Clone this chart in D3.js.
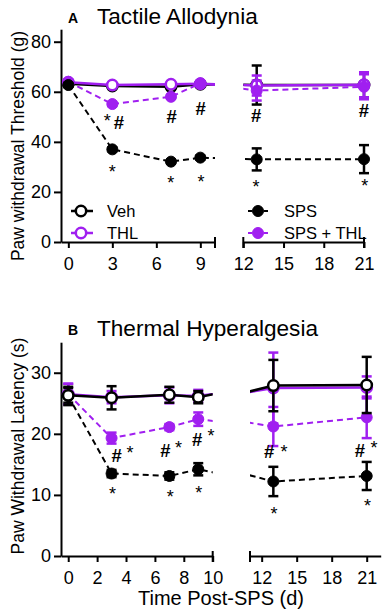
<!DOCTYPE html>
<html>
<head>
<meta charset="utf-8">
<script src="https://cdn.jsdelivr.net/npm/d3@7"></script>
<style>
  body { margin: 0; background: #fff; }
  svg { font-family: "Liberation Sans", Arial, sans-serif; }
</style>
</head>
<body>
<svg id="chart"></svg>
<script>
const width = 383;
const height = 613;
const purple = "#a01ff0";

// days after SPS
const days = [0, 3, 7, 9, 13, 21];

// A: tactile allodynia, threshold (g)
const vehA = [63.2, 62.3, 62.0, 63.0, 62.7, 62.7];
const vehAErr = [1.0, 0.8, 1.0, 0.8, 7.8, 5.0];
const thlA = [63.8, 62.7, 63.0, 63.2, 62.5, 62.8];
const thlAErr = [1.0, 0.8, 0.8, 0.8, 4.0, 5.0];
const spsA = [62.7, 37.0, 32.1, 33.7, 33.0, 33.1];
const spsAErr = [0.8, 0.8, 0.8, 0.8, 4.4, 5.6];
const spsThlA = [64.0, 55.1, 58.0, 63.4, 60.5, 62.0];
const spsThlAErr = [0.8, 0.8, 0.8, 0.8, 4.0, 5.0];

// B: thermal hyperalgesia, latency (s)
const vehB = [26.3, 25.9, 26.4, 26.0, 27.9, 28.0];
const vehBErr = [1.2, 1.9, 1.3, 1.0, 4.2, 4.6];
const thlB = [26.5, 26.0, 26.3, 26.2, 27.5, 27.6];
const thlBErr = [1.7, 1.0, 1.3, 1.0, 5.8, 1.8];
const spsB = [26.2, 13.5, 13.1, 14.2, 12.2, 13.1];
const spsBErr = [1.5, 0.6, 0.6, 1.0, 2.4, 2.3];
const spsThlB = [26.5, 19.3, 21.1, 22.4, 21.2, 22.7];
const spsThlBErr = [1.7, 0.9, 0.5, 1.1, 3.2, 3.4];

// tick labels
const xTicksA1 = [0, 3, 6, 9];
const xTicksA2 = [12, 15, 18, 21];
const xTicksB1 = [0, 2, 4, 6, 8, 10];
const xTicksB2 = [12, 15, 18, 21];
const yTicksA = [0, 20, 40, 60, 80];
const yTicksB = [0, 10, 20, 30];

// significance marks: [day, value, symbol]
const marksA = [
  [2.65, 50.0, "*"], [3.45, 47.6, "#"], [7.05, 50.0, "#"], [9.03, 53.4, "#"],
  [12.95, 50.7, "#"], [21.0, 52.7, "#"],
  [3.0, 29.7, "*"], [6.98, 25.2, "*"], [9.05, 25.4, "*"], [12.95, 23.7, "*"], [21.05, 24.1, "*"]
];
const marksB = [
  [3.36, 16.4, "#"], [4.28, 17.5, "*"], [6.72, 17.3, "#"], [7.64, 18.4, "*"],
  [8.92, 19.1, "#"], [9.89, 20.3, "*"],
  [12.65, 17.1, "#"], [13.91, 17.6, "*"], [20.42, 17.3, "#"], [21.62, 18.4, "*"],
  [3.06, 10.8, "*"], [7.06, 10.3, "*"], [9.03, 10.9, "*"], [13.05, 7.6, "*"], [21.08, 8.9, "*"]
];

const styles = {
  Veh: { stroke: "#000", fill: "#fff", dash: null, r: 5.2 },
  THL: { stroke: purple, fill: "#fff", dash: null, r: 5.2 },
  SPS: { stroke: "#000", fill: "#000", dash: "6,4", r: 5.5 },
  "SPS + THL": { stroke: purple, fill: purple, dash: "6,4", r: 5.5 }
};

const svg = d3.select("#chart").attr("width", width).attr("height", height);
const defs = svg.append("defs");

const panels = [
  {
    id: "A", title: "Tactile Allodynia", titleY: 24,
    ylabel: "Paw withdrawal Threshold (g)", ylabelY: 146,
    y: d3.scaleLinear().domain([0, 85]).range([242, 29.2]),
    yTicks: yTicksA,
    segs: [
      { x: d3.scaleLinear().domain([-0.5, 10]).range([61, 215]), ticks: xTicksA1, capL: false },
      { x: d3.scaleLinear().domain([12, 21]).range([243.3, 364]), ticks: xTicksA2, capL: true }
    ],
    series: [
      ["Veh", vehA, vehAErr], ["THL", thlA, thlAErr],
      ["SPS + THL", spsThlA, spsThlAErr], ["SPS", spsA, spsAErr]
    ],
    marks: marksA
  },
  {
    id: "B", title: "Thermal Hyperalgesia", titleY: 336,
    ylabel: "Paw Withdrawal Latency (s)", ylabelY: 446,
    y: d3.scaleLinear().domain([0, 35]).range([556, 342.2]),
    yTicks: yTicksB,
    segs: [
      { x: d3.scaleLinear().domain([-0.5, 10]).range([61, 212.7]), ticks: xTicksB1, capL: false },
      { x: d3.scaleLinear().domain([11, 22.2]).range([250, 380.7]), ticks: xTicksB2, capL: true, noCapR: true }
    ],
    series: [
      ["THL", thlB, thlBErr], ["SPS + THL", spsThlB, spsThlBErr],
      ["SPS", spsB, spsBErr], ["Veh", vehB, vehBErr]
    ],
    marks: marksB
  }
];

panels.forEach(p => {
  const g = svg.append("g");
  const y = p.y;
  const y0 = y.range()[0];

  // title
  g.append("text").attr("x", 68).attr("y", p.titleY - 1)
    .attr("font-size", 14).attr("font-weight", "bold").text(p.id);
  g.append("text").attr("x", 97).attr("y", p.titleY)
    .attr("font-size", 22.6).text(p.title);

  // y label
  g.append("text")
    .attr("transform", `translate(24,${p.ylabelY}) rotate(-90)`)
    .attr("text-anchor", "middle")
    .attr("font-size", 17.5)
    .text(p.ylabel);

  // y axis
  const yAxis = g.append("g")
    .attr("transform", "translate(61,0)")
    .call(d3.axisLeft(y).tickValues(p.yTicks).tickSize(7).tickSizeOuter(0).tickPadding(3));
  yAxis.selectAll("path, line").attr("stroke", "#000").attr("stroke-width", 2);
  yAxis.selectAll("text").attr("font-size", 18).attr("fill", "#000").style("font-family", "inherit");

  p.segs.forEach((s, si) => {
    const x = s.x;
    const [xa, xb] = x.range();

    // x axis
    const xAxis = g.append("g")
      .attr("transform", `translate(0,${y0})`)
      .call(d3.axisBottom(x).tickValues(s.ticks).tickSize(6).tickSizeOuter(0).tickPadding(9));
    xAxis.selectAll("path, line").attr("stroke", "#000").attr("stroke-width", 2);
    xAxis.selectAll("text").attr("font-size", 18).attr("fill", "#000").style("font-family", "inherit");
    if (!s.noCapR) {
      xAxis.append("line").attr("x1", xb).attr("x2", xb).attr("y1", -5).attr("y2", 6)
        .attr("stroke", "#000").attr("stroke-width", 2);
    }
    if (s.capL) {
      xAxis.append("line").attr("x1", xa).attr("x2", xa).attr("y1", -5).attr("y2", 6)
        .attr("stroke", "#000").attr("stroke-width", 2);
    }

    // clip lines to this segment
    const clipId = `clip${p.id}${si}`;
    defs.append("clipPath").attr("id", clipId)
      .append("rect").attr("x", xa).attr("y", 0).attr("width", xb - xa).attr("height", height);

    const inSeg = d => d.day >= x.domain()[0] && d.day <= x.domain()[1] + 0.5;

    p.series.forEach(([key, vals, errs]) => {
      const st = styles[key];
      const pts = days.map((d, i) => ({ day: d, v: vals[i], e: errs[i] }));

      g.append("path")
        .datum(pts)
        .attr("clip-path", `url(#${clipId})`)
        .attr("fill", "none")
        .attr("stroke", st.stroke)
        .attr("stroke-width", st.dash ? 2 : 2.5)
        .attr("stroke-dasharray", st.dash)
        .attr("d", d3.line().x(d => x(d.day)).y(d => y(d.v)));

      const shown = pts.filter(inSeg);
      const eb = g.append("g").attr("stroke", st.stroke).attr("stroke-width", 2.5);
      eb.selectAll("line.v").data(shown).join("line")
        .attr("x1", d => x(d.day)).attr("x2", d => x(d.day))
        .attr("y1", d => y(d.v + d.e)).attr("y2", d => y(d.v - d.e));
      eb.selectAll("line.t").data(shown).join("line")
        .attr("x1", d => x(d.day) - 5).attr("x2", d => x(d.day) + 5)
        .attr("y1", d => y(d.v + d.e)).attr("y2", d => y(d.v + d.e));
      eb.selectAll("line.b").data(shown).join("line")
        .attr("x1", d => x(d.day) - 5).attr("x2", d => x(d.day) + 5)
        .attr("y1", d => y(d.v - d.e)).attr("y2", d => y(d.v - d.e));

      g.append("g").selectAll("circle").data(shown).join("circle")
        .attr("cx", d => x(d.day)).attr("cy", d => y(d.v))
        .attr("r", st.r)
        .attr("fill", st.fill)
        .attr("stroke", st.stroke)
        .attr("stroke-width", st.fill === "#fff" ? 2.5 : 1);
    });

    // significance marks
    const ms = p.marks.filter(m => si === 0 ? m[0] <= 10.5 : m[0] >= 11);
    g.append("g").selectAll("text").data(ms).join("text")
      .attr("x", m => x(m[0]))
      .attr("y", m => y(m[1]) + (m[2] === "*" ? 10 : 6.5))
      .attr("text-anchor", "middle")
      .attr("font-size", m => m[2] === "#" ? 18.5 : 18)
      .attr("font-weight", m => m[2] === "#" ? "bold" : "normal")
      .text(m => m[2]);
  });
});

// x label
svg.append("text")
  .attr("x", 221).attr("y", 605)
  .attr("text-anchor", "middle")
  .attr("font-size", 20)
  .text("Time Post-SPS (d)");

// legend (panel A)
const legend = [
  ["Veh", 81, 211], ["THL", 81, 233], ["SPS", 258, 211], ["SPS + THL", 258, 233]
];
legend.forEach(([key, lx, ly]) => {
  const st = styles[key];
  const lg = svg.append("g");
  lg.append("line")
    .attr("x1", lx - 10).attr("x2", lx + 12).attr("y1", ly).attr("y2", ly)
    .attr("stroke", st.stroke).attr("stroke-width", st.dash ? 2 : 2.5)
    .attr("stroke-dasharray", st.dash ? "4,4" : null);
  lg.append("circle").attr("cx", lx).attr("cy", ly).attr("r", st.r)
    .attr("fill", st.fill).attr("stroke", st.stroke)
    .attr("stroke-width", st.fill === "#fff" ? 2.5 : 1);
  lg.append("text").attr("x", lx + 26).attr("y", ly + 6)
    .attr("font-size", 16.5).text(key);
});
</script>
</body>
</html>
